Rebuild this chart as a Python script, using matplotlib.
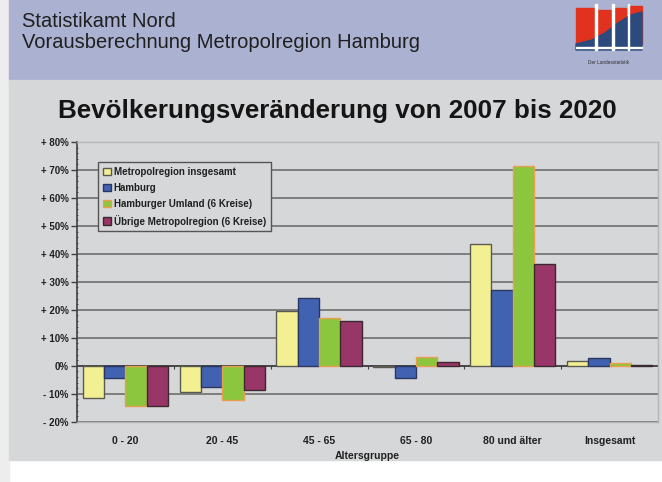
import numpy as np
import matplotlib.pyplot as plt
from matplotlib.patches import Rectangle, Polygon

plt.rcParams['font.family'] = ['Liberation Sans', 'DejaVu Sans']

W, H = 662, 482

categories = ["0 - 20", "20 - 45", "45 - 65", "65 - 80", "80 und älter", "Insgesamt"]
series_names = ["Metropolregion insgesamt", "Hamburg",
                "Hamburger Umland (6 Kreise)", "Übrige Metropolregion (6 Kreise)"]
metro_total = [-11.5, -9.5, 19.5, -0.3, 43.4, 1.8]
hamburg = [-4.4, -7.7, 24.3, -4.5, 27.2, 2.6]
umland = [-14.5, -12.4, 17.1, 3.2, 71.5, 1.0]
uebrige = [-14.5, -8.6, 16.0, 1.2, 36.4, 0.2]
yticks = [-20, -10, 0, 10, 20, 30, 40, 50, 60, 70, 80]

colors = ["#f3f093", "#4162b1", "#8cc63e", "#983667"]
edges = ["#5a5a50", "#2a3560", "#e8a050", "#3a2a30"]

BG = "#d6d7d9"
HEADER = "#aab1d1"


def px_rect(x0, y0, x1, y1):
    # pixel box (top-left origin) -> figure fraction rect
    return [x0 / W, 1 - y1 / H, (x1 - x0) / W, (y1 - y0) / H]


fig = plt.figure(figsize=(W / 100, H / 100), dpi=100)
fig.patch.set_facecolor("white")

# background bands
bg = fig.add_axes([0, 0, 1, 1])
bg.set_xlim(0, W)
bg.set_ylim(H, 0)
bg.axis("off")
bg.add_patch(Rectangle((0, 0), 9, H, color="#ecedec"))
bg.add_patch(Rectangle((9, 0), W - 9, 80, color=HEADER))
bg.add_patch(Rectangle((9, 80), W - 9, 380, color=BG))

bg.text(22, 27, "Statistikamt Nord", fontsize=14.5, va="baseline", color="#202020")
bg.text(22, 48, "Vorausberechnung Metropolregion Hamburg", fontsize=14.5,
        va="baseline", color="#202020")
bg.text(337, 118, "Bevölkerungsveränderung von 2007 bis 2020", fontsize=18.7,
        fontweight="bold", ha="center", va="baseline", color="#151515")

# logo
red = "#e0321e"
blue = "#2c4a7c"
for x0, x1, top in [(576, 594, 8), (597, 611, 10), (614, 626, 8), (629, 642, 6)]:
    bg.add_patch(Rectangle((x0, top), x1 - x0, 44 - top, color=red))
bg.add_patch(Polygon([(576, 44), (592, 40), (605, 33), (618, 23), (631, 15),
                      (642, 12), (642, 50), (576, 50)], color=blue))
bg.add_patch(Rectangle((576, 47), 66, 1.2, color="white"))
for xs in [595, 612, 627.5]:
    bg.add_patch(Rectangle((xs, 4), 1.6, 46, color="white"))
bg.text(609, 62, "Der Landesstatistik", fontsize=3.4, ha="center", va="center",
        color="#303030")

# chart
ax = fig.add_axes(px_rect(77, 142, 658, 421.7))
ax.set_facecolor(BG)
x = np.arange(len(categories))
w = 0.22
all_series = [metro_total, hamburg, umland, uebrige]
for i, vals in enumerate(all_series):
    ax.bar(x + (i - 1.5) * w, vals, w, color=colors[i], edgecolor=edges[i],
           linewidth=1.0, label=series_names[i], zorder=3)

ax.set_xlim(-0.5, len(categories) - 0.5)
ax.set_ylim(-20, 80)
ax.set_yticks(yticks)
ax.set_yticklabels([("+ %d%%" % v) if v > 0 else ("- %d%%" % -v if v < 0 else "0%")
                    for v in yticks], fontsize=7, fontweight="bold", color="#202020")
ax.set_yticks(np.arange(-20, 81, 2), minor=True)
ax.tick_params(axis="y", which="major", length=4, width=1, color="#404040", pad=2)
ax.tick_params(axis="y", which="minor", length=2, width=0.6, color="#404040",
               direction="inout")
ax.grid(axis="y", color="#6e6e6e", linewidth=1.2, zorder=1)

ax.set_xticks(x)
ax.set_xticklabels(categories, fontsize=7.5, fontweight="bold", color="#202020")
ax.tick_params(axis="x", length=0, pad=10)
ax.set_xlabel("Altersgruppe", fontsize=7.5, fontweight="bold", labelpad=4,
              color="#202020")

ax.axhline(0, color="#404040", linewidth=1.2, zorder=2)
ax.vlines(np.arange(0.5, len(categories) - 0.5), -1.0, 0, color="#404040",
          linewidth=0.8, zorder=2)

for s in ["top", "right", "bottom"]:
    ax.spines[s].set_color("#b4b5b8")
    ax.spines[s].set_linewidth(1.0)
ax.spines["left"].set_color("#404040")
ax.spines["left"].set_linewidth(1.2)

leg = ax.legend(loc="upper left", bbox_to_anchor=(0.028, 0.945), fontsize=7,
                frameon=True, fancybox=False, borderpad=0.5, labelspacing=0.6,
                handlelength=0.8, handleheight=0.8, handletextpad=0.3)
leg.get_frame().set_facecolor(BG)
leg.get_frame().set_edgecolor("#555555")
leg.get_frame().set_linewidth(1.0)
leg.get_frame().set_alpha(1)
for t in leg.get_texts():
    t.set_fontweight("bold")
    t.set_color("#202020")

fig.savefig("out.png", dpi=100, facecolor=fig.get_facecolor())
